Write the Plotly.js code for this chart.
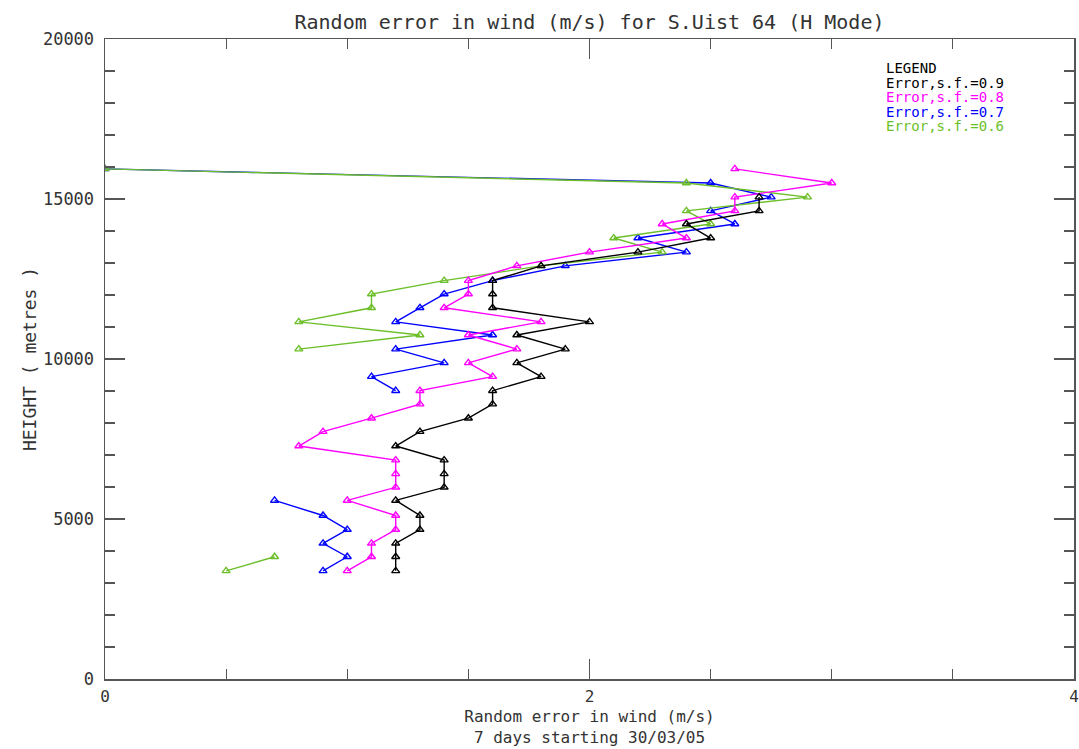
<!DOCTYPE html>
<html>
<head>
<meta charset="utf-8">
<script src="https://cdn.plot.ly/plotly-3.0.1.min.js"></script>
<style>html,body{margin:0;padding:0;background:#fff;}#chart{width:1079px;height:749px;}</style>
</head>
<body>
<div id="chart"></div>
<script>
// Heights (metres) of the analysis levels
var heights = [3380, 3820, 4240, 4670, 5110, 5580, 5990, 6410, 6840, 7280,
               7730, 8150, 8590, 9010, 9450, 9880, 10310, 10750, 11160, 11600,
               12030, 12450, 12910, 13340, 13780, 14220, 14630, 15060, 15500, 15940];

// Random error in wind (m/s), one array per scaling factor (null = no value)
var err09 = [1.2, 1.2, 1.2, 1.3, 1.3, 1.2, 1.4, 1.4, 1.4, 1.2,
             1.3, 1.5, 1.6, 1.6, 1.8, 1.7, 1.9, 1.7, 2.0, 1.6,
             1.6, 1.6, 1.8, 2.2, 2.5, 2.4, 2.7, 2.7, null, null];
var err08 = [1.0, 1.1, 1.1, 1.2, 1.2, 1.0, 1.2, 1.2, 1.2, 0.8,
             0.9, 1.1, 1.3, 1.3, 1.6, 1.5, 1.7, 1.5, 1.8, 1.4,
             1.5, 1.5, 1.7, 2.0, 2.4, 2.3, 2.6, 2.6, 3.0, 2.6];
var err07 = [0.9, 1.0, 0.9, 1.0, 0.9, 0.7, null, null, null, null,
             null, null, null, 1.2, 1.1, 1.4, 1.2, 1.6, 1.2, 1.3,
             1.4, 1.6, 1.9, 2.4, 2.2, 2.6, 2.5, 2.75, 2.5, 0.0];
var err06 = [0.5, 0.7, null, null, null, null, null, null, null, null,
             null, null, null, null, null, null, 0.8, 1.3, 0.8, 1.1,
             1.1, 1.4, 1.8, 2.3, 2.1, 2.5, 2.4, 2.9, 2.4, 0.0];

var seriesNames = ["Error,s.f.=0.9", "Error,s.f.=0.8", "Error,s.f.=0.7", "Error,s.f.=0.6"];
var seriesColors = ["#000000", "#ff00ff", "#0000ff", "#6cbf2a"];
var seriesData = [err09, err08, err07, err06];

var xTickVals = [0, 2, 4];
var xTickText = ["0", "2", "4"];
var yTickVals = [0, 5000, 10000, 15000, 20000];
var yTickText = ["0", "5000", "10000", "15000", "20000"];

var FONT = "DejaVu Sans Mono, Liberation Mono, monospace";

// Draw order: blue, green, magenta, black (black on top)
var order = [2, 3, 1, 0];
var traces = order.map(function (i) {
  return {
    x: seriesData[i],
    y: heights,
    type: "scatter",
    mode: "lines+markers",
    name: seriesNames[i],
    connectgaps: false,
    line: {color: seriesColors[i], width: 1.4},
    marker: {symbol: "triangle-up-open", size: 7, color: seriesColors[i], line: {width: 1.4, color: seriesColors[i]}},
    showlegend: false
  };
});

var legendLines = ["LEGEND"].concat(seriesNames);
var legendColors = ["#000000"].concat(seriesColors);
var annotations = legendLines.map(function (t, k) {
  return {
    text: t, xref: "paper", yref: "paper",
    x: (884 - 105) / (1074 - 105), y: 1 - (68 + k * 14.5 - 39) / (679 - 39),
    xanchor: "left", yanchor: "middle", showarrow: false,
    font: {family: FONT, size: 14, color: legendColors[k]}
  };
});

var axisCommon = {
  showgrid: false, zeroline: false, showline: true, linecolor: "#555", linewidth: 1.5,
  mirror: "ticks", ticks: "inside", ticklen: 20, tickwidth: 1.2, tickcolor: "#555"
};

var layout = {
  width: 1079, height: 749,
  margin: {l: 105, r: 5, t: 39, b: 70},
  paper_bgcolor: "#ffffff", plot_bgcolor: "#ffffff",
  title: {text: "Random error in wind (m/s) for S.Uist 64 (H Mode)", x: 0.5, xref: "paper",
          y: 1 - 22 / 749, yref: "container", yanchor: "middle",
          font: {family: FONT, size: 20, color: "#333"}},
  xaxis: Object.assign({}, axisCommon, {
    range: [0, 4], tickmode: "array", tickvals: xTickVals, ticktext: xTickText,
    tickfont: {family: FONT, size: 16, color: "#333"},
    ticklabelstandoff: 2,
    minor: {dtick: 0.5, ticks: "inside", ticklen: 10, tickwidth: 1.2, tickcolor: "#555"},
    title: {text: "Random error in wind (m/s)<br>7 days starting 30/03/05", standoff: 6,
            font: {family: FONT, size: 16, color: "#333"}}
  }),
  yaxis: Object.assign({}, axisCommon, {
    range: [0, 20000], tickmode: "array", tickvals: yTickVals, ticktext: yTickText,
    tickfont: {family: FONT, size: 17, color: "#333"},
    ticklabelstandoff: 6,
    minor: {dtick: 1000, ticks: "inside", ticklen: 10, tickwidth: 1.2, tickcolor: "#555"},
    title: {text: "HEIGHT ( metres )", standoff: 1,
            font: {family: FONT, size: 18, color: "#333"}}
  }),
  annotations: annotations,
  showlegend: false
};

Plotly.newPlot("chart", traces, layout, {displayModeBar: false, staticPlot: true});
</script>
</body>
</html>
